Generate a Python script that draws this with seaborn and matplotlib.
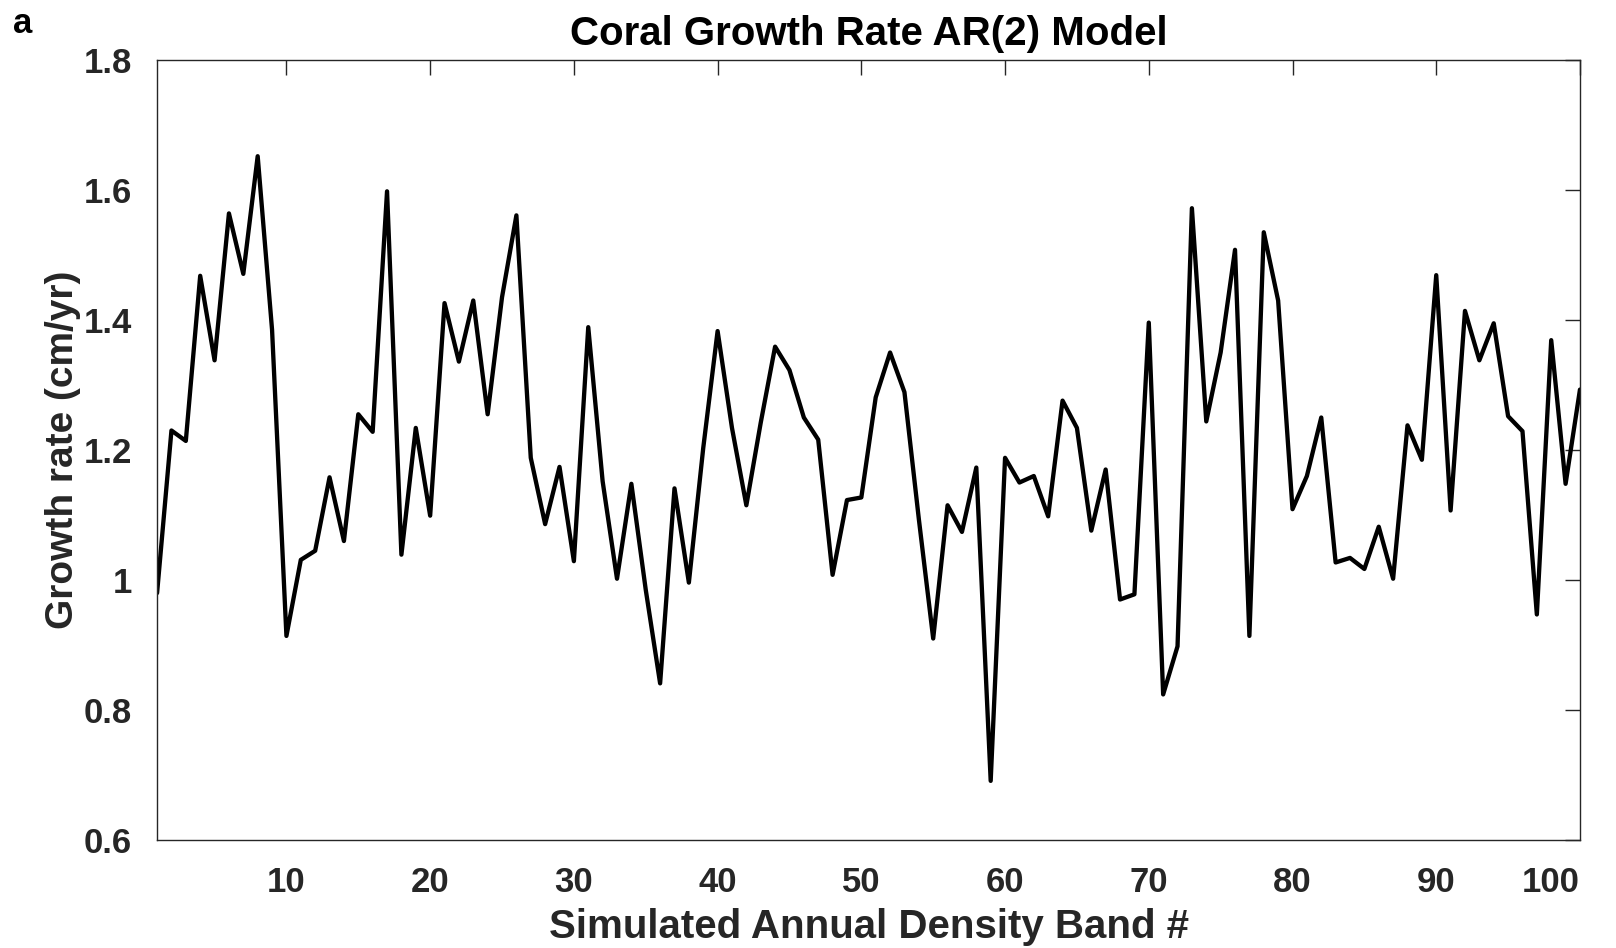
import numpy as np
import pandas as pd
import matplotlib
matplotlib.use("Agg")
import matplotlib.pyplot as plt
import seaborn as sns
from matplotlib.ticker import FuncFormatter

band = list(range(1, 101))
growth = [
    0.980, 1.230, 1.214, 1.468, 1.338, 1.564, 1.471, 1.652, 1.385, 0.914,
    1.031, 1.045, 1.158, 1.060, 1.255, 1.228, 1.598, 1.039, 1.234, 1.099,
    1.426, 1.336, 1.430, 1.255, 1.435, 1.561, 1.188, 1.086, 1.174, 1.029,
    1.389, 1.152, 1.002, 1.148, 0.985, 0.841, 1.141, 0.996, 1.203, 1.383,
    1.234, 1.115, 1.242, 1.359, 1.323, 1.250, 1.216, 1.008, 1.123, 1.127,
    1.281, 1.350, 1.289, 1.094, 0.910, 1.115, 1.074, 1.173, 0.691, 1.188,
    1.150, 1.160, 1.098, 1.276, 1.234, 1.076, 1.170, 0.970, 0.978, 1.396,
    0.824, 0.898, 1.572, 1.244, 1.350, 1.508, 0.914, 1.535, 1.430, 1.109,
    1.160, 1.250, 1.027, 1.034, 1.017, 1.082, 1.002, 1.238, 1.185, 1.469,
    1.107, 1.414, 1.338, 1.395, 1.252, 1.229, 0.947, 1.369, 1.148, 1.293,
]
x_ticks = [10, 20, 30, 40, 50, 60, 70, 80, 90, 100]
y_ticks = [0.6, 0.8, 1.0, 1.2, 1.4, 1.6, 1.8]

df = pd.DataFrame({"band": band, "growth": growth})

sns.set_theme(style="white")
plt.rcParams["font.family"] = ["Liberation Sans", "DejaVu Sans"]
plt.rcParams["font.weight"] = "bold"

fig = plt.figure(figsize=(16.16, 9.48), dpi=100)
ax = fig.add_axes([0.0972, 0.1139, 0.8805, 0.8228])

sns.lineplot(data=df, x="band", y="growth", color="black", linewidth=3.1, ax=ax)

ax.set_xlim(1, 100)
ax.set_ylim(0.6, 1.8)
ax.set_xticks(x_ticks)
ax.set_yticks(y_ticks)
ax.yaxis.set_major_formatter(FuncFormatter(lambda v, p: f"{v:g}"))

txt = "#262626"
ax.tick_params(axis="both", direction="in", length=11, width=1.0, color=txt,
               top=True, right=True, labelsize=25, labelcolor=txt)
ax.tick_params(axis="x", pad=19)
ax.tick_params(axis="y", pad=18)
for lab in ax.get_xticklabels() + ax.get_yticklabels():
    lab.set_fontweight("bold")
ax.get_xticklabels()[-1].set_horizontalalignment("right")
for s in ax.spines.values():
    s.set_color(txt)
    s.set_linewidth(1.0)
    s.set_visible(True)

ax.set_xlabel("Simulated Annual Density Band #", fontsize=29, fontweight="bold",
              color=txt, labelpad=6)
ax.set_ylabel("Growth rate (cm/yr)", fontsize=28, fontweight="bold",
              color=txt, labelpad=2)
ax.set_title("Coral Growth Rate AR(2) Model", fontsize=29, fontweight="bold",
             color="black", pad=11)
fig.text(0.008, 0.975, "a", fontsize=25, fontweight="bold", color="black",
         ha="left", va="center")

fig.savefig("out.png", dpi=100, facecolor="white")
